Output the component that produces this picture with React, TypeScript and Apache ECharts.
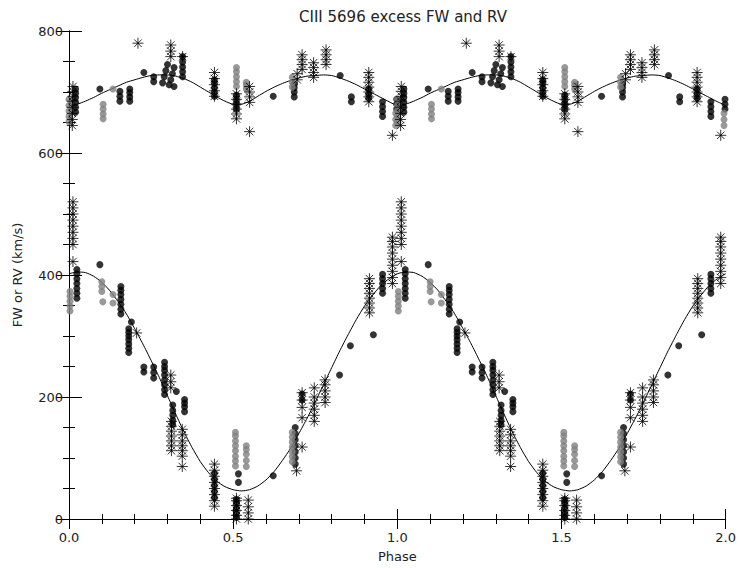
import React, { useEffect, useRef } from "react";
import * as echarts from "echarts";

// Curves (phase 0..1, step 0.025)
const curvePhases = [
  0, 0.025, 0.05, 0.075, 0.1, 0.125, 0.15, 0.175, 0.2, 0.225, 0.25, 0.275, 0.3, 0.325, 0.35, 0.375, 0.4, 0.425, 0.45, 0.475,
  0.5, 0.525, 0.55, 0.575, 0.6, 0.625, 0.65, 0.675, 0.7, 0.725, 0.75, 0.775, 0.8, 0.825, 0.85, 0.875, 0.9, 0.925, 0.95, 0.975, 1.0,
];
const rvCurve = [
  402, 405, 404, 398, 388, 374, 356, 336, 312, 287, 260, 232, 202, 172, 143, 117, 94, 76, 62, 53,
  48, 46, 48, 54, 64, 78, 96, 116, 140, 165, 192, 220, 248, 276, 302, 327, 349, 367, 383, 394, 402,
];
const fwCurve = [
  678, 680, 685, 691, 698, 704, 710, 716, 720, 724, 727, 728, 728, 726, 722, 716, 708, 700, 692, 685,
  680, 680, 685, 693, 701, 708, 714, 719, 723, 726, 727, 728, 727, 723, 718, 712, 705, 698, 691, 684, 678,
];

// RV points: [phase, value]
const rvBlack: number[][] = [
  [0.024, 362], [0.024, 370], [0.024, 378], [0.024, 386], [0.024, 394], [0.024, 402], [0.024, 409],
  [0.094, 417],
  [0.158, 336], [0.158, 344], [0.158, 352], [0.158, 360], [0.158, 368], [0.158, 375], [0.158, 381],
  [0.19, 323],
  [0.182, 273], [0.182, 280], [0.182, 287], [0.182, 294], [0.182, 300], [0.182, 306], [0.182, 312],
  [0.228, 241], [0.228, 249],
  [0.258, 231], [0.258, 240], [0.258, 249],
  [0.291, 204], [0.291, 212], [0.291, 220], [0.291, 228], [0.291, 236], [0.291, 244], [0.291, 250], [0.291, 257],
  [0.327, 209],
  [0.316, 155], [0.316, 162], [0.316, 170], [0.316, 178], [0.316, 187],
  [0.352, 176], [0.352, 184], [0.352, 190], [0.352, 196],
  [0.443, 35], [0.443, 45], [0.443, 55], [0.443, 65], [0.443, 75],
  [0.516, 74], [0.516, 60],
  [0.51, 3], [0.51, 10], [0.51, 18], [0.51, 25], [0.51, 32],
  [0.622, 71],
  [0.689, 90], [0.689, 100], [0.689, 110], [0.689, 120], [0.689, 130], [0.689, 140], [0.689, 150],
  [0.71, 195], [0.71, 205],
  [0.824, 236], [0.857, 284], [0.927, 302],
  [0.955, 370], [0.955, 378], [0.955, 386], [0.955, 394], [0.955, 401],
];
const rvGray: number[][] = [
  [0.003, 341], [0.003, 349], [0.003, 357], [0.003, 365], [0.003, 373],
  [0.1, 373], [0.1, 381], [0.1, 389], [0.103, 356],
  [0.134, 368], [0.134, 354],
  [0.507, 87], [0.507, 95], [0.507, 103], [0.507, 112], [0.507, 120], [0.507, 128], [0.507, 136], [0.507, 142],
  [0.54, 86], [0.54, 96], [0.54, 106], [0.54, 114], [0.54, 120],
  [0.68, 94], [0.68, 102], [0.68, 110], [0.68, 118], [0.68, 126], [0.68, 134], [0.68, 142],
];
const rvStar: number[][] = [
  [0.012, 450], [0.012, 460], [0.012, 470], [0.012, 480], [0.012, 490], [0.012, 500], [0.012, 510], [0.012, 520], [0.012, 422],
  [0.206, 305],
  [0.31, 215], [0.31, 225], [0.31, 236],
  [0.312, 112], [0.312, 120], [0.312, 128], [0.312, 136], [0.312, 144], [0.312, 152], [0.312, 160],
  [0.345, 103], [0.345, 112], [0.345, 120], [0.345, 128], [0.345, 138], [0.345, 147], [0.345, 86],
  [0.443, 21], [0.443, 30], [0.443, 40], [0.443, 50], [0.443, 60], [0.443, 70], [0.443, 80], [0.443, 90],
  [0.51, 0], [0.51, 6], [0.51, 14], [0.51, 22], [0.51, 30], [0.51, 34],
  [0.546, 0], [0.546, 10], [0.546, 20], [0.546, 31],
  [0.693, 79],
  [0.71, 118], [0.71, 166], [0.71, 183], [0.71, 195], [0.71, 207],
  [0.747, 160], [0.747, 170], [0.747, 180], [0.747, 190], [0.747, 200], [0.747, 215],
  [0.78, 191], [0.78, 200], [0.78, 210], [0.78, 220], [0.78, 228],
  [0.915, 338], [0.915, 346], [0.915, 354], [0.915, 362], [0.915, 370], [0.915, 378], [0.915, 386], [0.915, 394],
  [0.985, 386], [0.985, 396], [0.985, 406], [0.985, 416], [0.985, 426], [0.985, 436], [0.985, 446], [0.985, 455], [0.985, 462],
];

// FW points: [phase, value]
const fwBlack: number[][] = [
  [0.02, 667], [0.02, 675], [0.02, 683], [0.02, 691], [0.02, 698], [0.02, 705],
  [0.094, 705],
  [0.155, 685], [0.155, 693], [0.155, 701],
  [0.185, 685], [0.185, 692], [0.185, 699], [0.185, 705],
  [0.228, 732],
  [0.258, 717], [0.258, 725],
  [0.285, 715], [0.29, 725], [0.295, 735], [0.3, 745], [0.305, 712], [0.31, 720], [0.315, 730], [0.32, 740], [0.32, 709],
  [0.346, 725], [0.346, 733], [0.346, 741], [0.346, 749], [0.346, 758],
  [0.443, 693], [0.443, 700], [0.443, 707], [0.443, 714], [0.443, 720],
  [0.51, 672], [0.51, 680], [0.51, 688], [0.51, 695],
  [0.622, 693],
  [0.686, 692], [0.686, 700], [0.686, 707], [0.686, 713],
  [0.826, 727],
  [0.86, 684], [0.86, 692],
  [0.913, 690], [0.913, 697], [0.913, 705],
  [0.955, 660], [0.955, 668], [0.955, 676], [0.955, 684],
  [0.998, 672], [0.998, 680], [0.998, 688],
];
const fwGray: number[][] = [
  [0.0, 651], [0.0, 660], [0.0, 669], [0.0, 678], [0.0, 688],
  [0.104, 656], [0.104, 664], [0.104, 672], [0.104, 680],
  [0.134, 705],
  [0.51, 709], [0.51, 717], [0.51, 725], [0.51, 733], [0.51, 740],
  [0.54, 705], [0.54, 711], [0.54, 716],
  [0.68, 708], [0.68, 716], [0.68, 724],
  [0.995, 645], [0.995, 655], [0.995, 665],
];
const fwStar: number[][] = [
  [0.01, 645], [0.01, 655], [0.01, 665], [0.01, 675], [0.01, 685], [0.012, 693], [0.012, 701], [0.012, 709],
  [0.21, 780],
  [0.31, 758], [0.31, 767], [0.31, 777],
  [0.346, 758],
  [0.443, 693], [0.443, 702], [0.443, 712], [0.443, 722], [0.443, 732],
  [0.51, 656], [0.51, 664], [0.51, 672], [0.51, 680], [0.51, 688], [0.51, 697],
  [0.55, 683], [0.55, 692], [0.55, 700], [0.55, 709], [0.55, 635],
  [0.695, 720], [0.695, 730],
  [0.71, 737], [0.71, 745], [0.71, 753], [0.71, 761],
  [0.745, 724], [0.745, 732], [0.745, 740], [0.745, 748],
  [0.783, 745], [0.783, 753], [0.783, 761], [0.783, 769],
  [0.913, 684], [0.913, 692], [0.913, 700], [0.913, 708], [0.913, 716], [0.913, 724], [0.913, 732],
  [0.985, 629],
];

const xTicks = [0, 0.5, 1.0, 1.5, 2.0];
const yTicks = [0, 200, 400, 600, 800];

const twoCycles = (pts: number[][]) => {
  const out: number[][] = [];
  pts.forEach((p) => {
    out.push([p[0], p[1]]);
    if (p[0] + 1 <= 2) out.push([p[0] + 1, p[1]]);
  });
  return out;
};
const curveTwo = (vals: number[]) => {
  const out: number[][] = [];
  curvePhases.forEach((ph, i) => out.push([ph, vals[i]]));
  curvePhases.forEach((ph, i) => {
    if (i > 0) out.push([ph + 1, vals[i]]);
  });
  return out;
};

const STAR = "path://M5,0L5,10M0,5L10,5M1.6,1.6L8.4,8.4M1.6,8.4L8.4,1.6";
const FONT = "DejaVu Sans";

export default function App() {
  const ref = useRef<HTMLDivElement>(null);
  useEffect(() => {
    if (!ref.current) return;
    const chart = echarts.init(ref.current, null, { renderer: "svg" });
    const axisCommon = {
      axisLine: { show: true, lineStyle: { color: "#000", width: 1 } },
      splitLine: { show: false },
    };
    const circle = (data: number[][], color: string) => ({
      type: "scatter",
      data: twoCycles(data),
      symbol: "circle",
      symbolSize: 7,
      itemStyle: { color },
      silent: true,
      z: 3,
    });
    const star = (data: number[][]) => ({
      type: "scatter",
      data: twoCycles(data),
      symbol: STAR,
      symbolSize: 11,
      itemStyle: { color: "transparent", borderColor: "#000", borderWidth: 1 },
      silent: true,
      z: 4,
    });
    const curve = (vals: number[]) => ({
      type: "line",
      data: curveTwo(vals),
      smooth: 0.2,
      showSymbol: false,
      symbol: "none",
      lineStyle: { color: "#000", width: 1 },
      silent: true,
      z: 2,
    });
    chart.setOption({
      animation: false,
      backgroundColor: "#fff",
      title: {
        text: "CIII 5696 excess FW and RV",
        left: 398,
        top: 4,
        textAlign: "center",
        textStyle: { fontFamily: FONT, fontSize: 15, fontWeight: "normal", color: "#222" },
      },
      grid: { left: 69, right: 11, top: 31, bottom: 42, containLabel: false },
      xAxis: [
        {
          type: "value",
          min: 0,
          max: 2,
          interval: 0.5,
          position: "bottom",
          ...axisCommon,
          axisTick: { show: true, inside: true, length: 10, lineStyle: { color: "#000" } },
          minorTick: { show: true, splitNumber: 5, length: 5, lineStyle: { color: "#000" } },
          axisLabel: {
            show: true,
            margin: 12,
            formatter: (v: number) => (xTicks.indexOf(v) >= 0 ? v.toFixed(1) : ""),
            fontFamily: FONT,
            fontSize: 13,
            color: "#222",
          },
          name: "Phase",
          nameLocation: "middle",
          nameGap: 31,
          nameTextStyle: { fontFamily: FONT, fontSize: 13, color: "#222" },
        },
        {
          type: "value",
          min: 0,
          max: 2,
          interval: 0.5,
          position: "top",
          ...axisCommon,
          axisTick: { show: true, inside: true, length: 10, lineStyle: { color: "#000" } },
          minorTick: { show: true, splitNumber: 5, length: 5, lineStyle: { color: "#000" } },
          axisLabel: { show: false },
        },
      ],
      yAxis: [
        {
          type: "value",
          min: 0,
          max: 800,
          interval: 200,
          position: "left",
          ...axisCommon,
          axisTick: { show: true, inside: true, length: 13, lineStyle: { color: "#000" } },
          minorTick: { show: true, splitNumber: 4, length: 6, lineStyle: { color: "#000" } },
          axisLabel: {
            show: true,
            margin: 6,
            formatter: (v: number) => (yTicks.indexOf(v) >= 0 ? String(v) : ""),
            fontFamily: FONT,
            fontSize: 13,
            color: "#222",
          },
          name: "FW or RV (km/s)",
          nameLocation: "middle",
          nameGap: 45,
          nameTextStyle: { fontFamily: FONT, fontSize: 13, color: "#222" },
        },
        {
          type: "value",
          min: 0,
          max: 800,
          interval: 200,
          position: "right",
          ...axisCommon,
          axisTick: { show: true, inside: true, length: 13, lineStyle: { color: "#000" } },
          minorTick: { show: true, splitNumber: 4, length: 6, lineStyle: { color: "#000" } },
          axisLabel: { show: false },
        },
      ],
      series: [
        curve(rvCurve),
        curve(fwCurve),
        circle(rvBlack, "#000"),
        circle(fwBlack, "#000"),
        star(rvStar),
        star(fwStar),
        circle(rvGray, "#808080"),
        circle(fwGray, "#808080"),
      ],
    });
    return () => chart.dispose();
  }, []);
  return (
    <div
      ref={ref}
      style={{ position: "fixed", left: 0, top: 0, width: 739, height: 568, background: "#fff" }}
    />
  );
}
